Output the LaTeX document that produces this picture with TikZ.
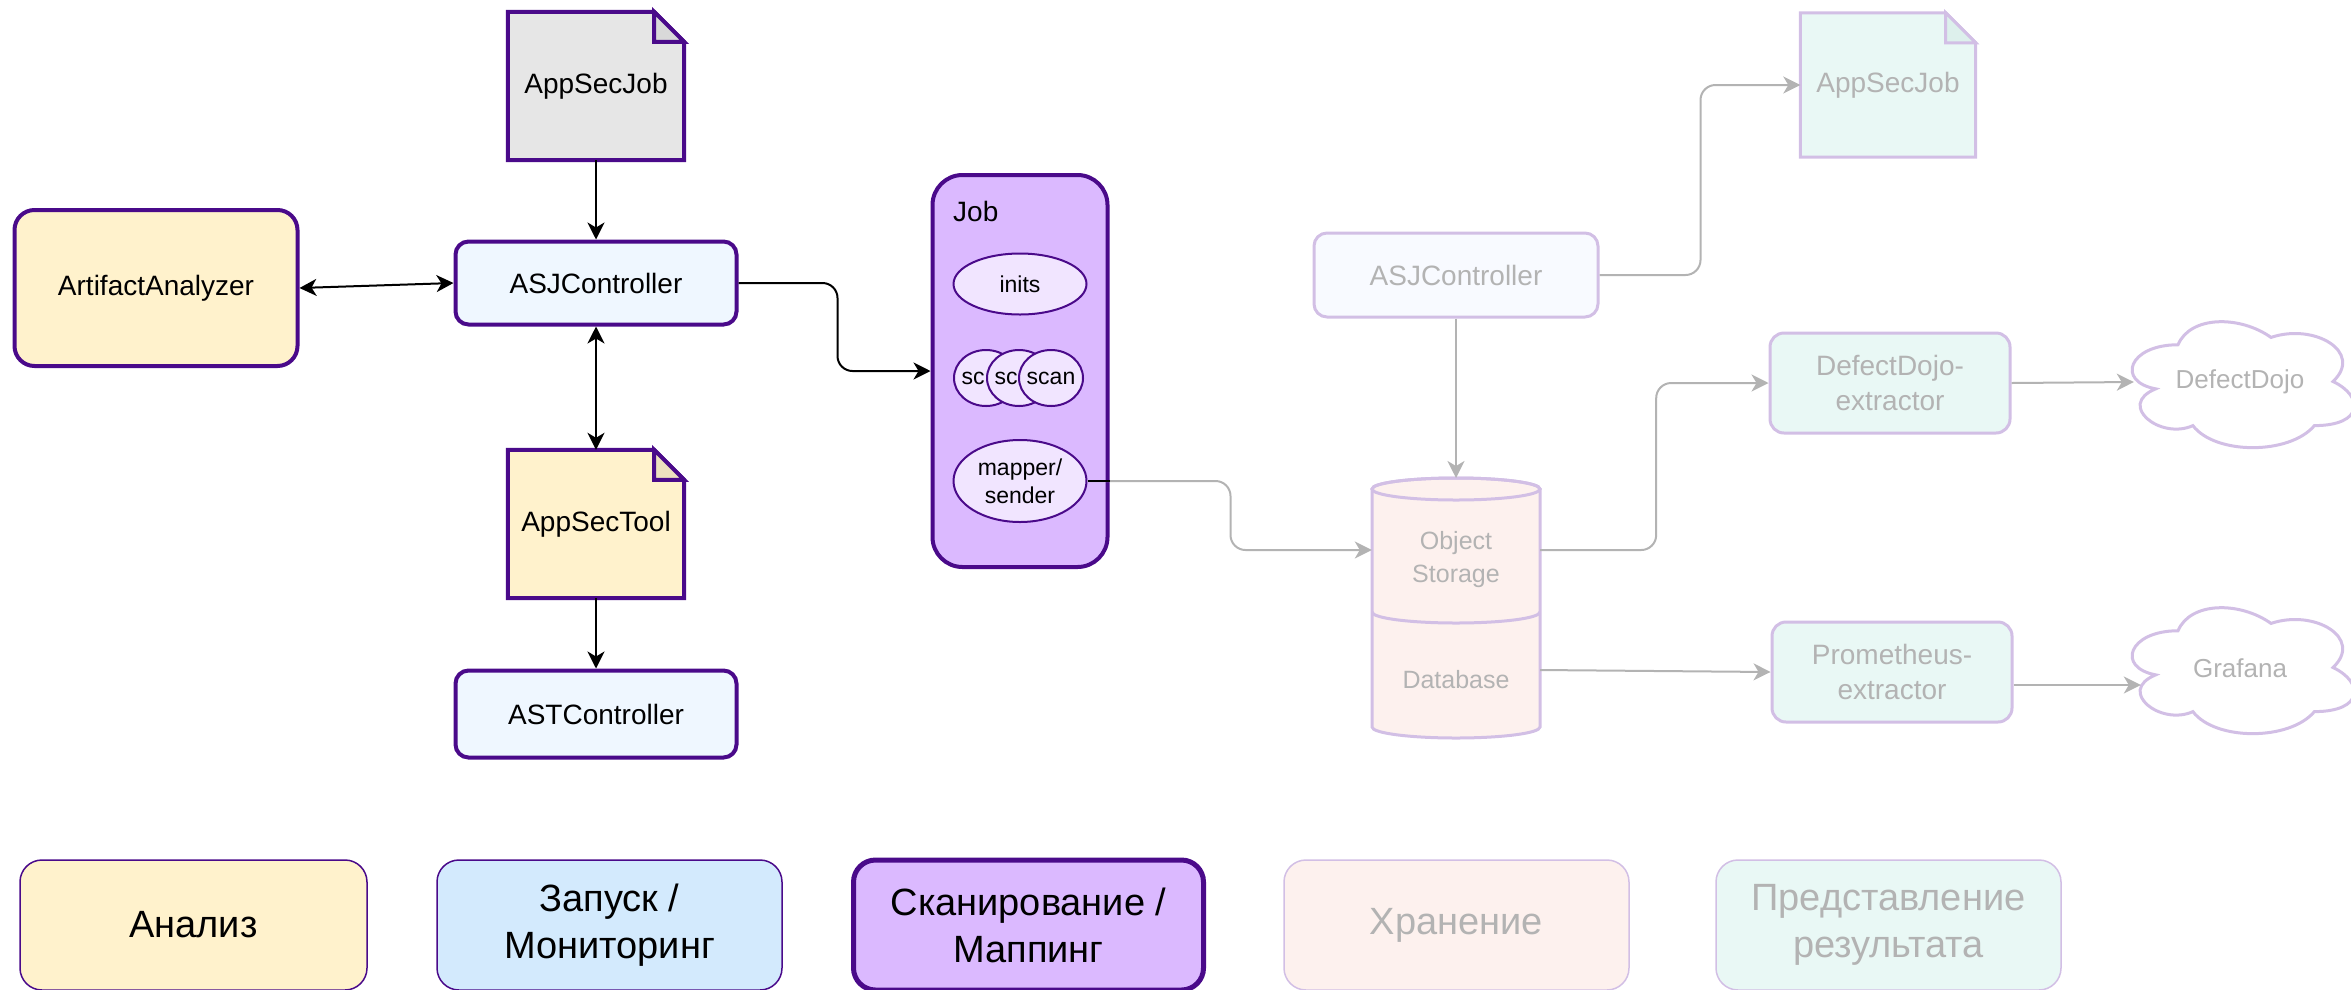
\documentclass[tikz,border=0pt]{standalone}
\usepackage{fontspec}
\setmainfont{Liberation Sans}
\usetikzlibrary{arrows.meta,backgrounds,calc,shapes.geometric}

\definecolor{deep}{HTML}{4A0A8A}
\definecolor{faded}{HTML}{D2BFE5}
\definecolor{greytxt}{HTML}{B3B3B3}
\definecolor{yel}{HTML}{FFF2CC}
\definecolor{yelfold}{HTML}{EDE1BF}
\definecolor{docgrey}{HTML}{E6E6E6}
\definecolor{docgreyfold}{HTML}{D9D9D9}
\definecolor{ctlblue}{HTML}{EFF7FF}
\definecolor{legblue}{HTML}{D3EAFD}
\definecolor{jobviolet}{HTML}{DBB9FF}
\definecolor{stepviolet}{HTML}{F1E5FF}
\definecolor{paleblue}{HTML}{F8FAFF}
\definecolor{storepink}{HTML}{FDF1EE}
\definecolor{mint}{HTML}{E9F8F5}
\definecolor{mintfold}{HTML}{DDF0EC}

% folded-corner document outline drawn behind a named node
% #1 node, #2 fill, #3 fold fill, #4 stroke, #5 line width
\newcommand\foldeddoc[5]{%
  \begin{scope}[on background layer]
    \filldraw[fill=#2, draw=#4, line width=#5, line join=miter]
      (#1.north west) -- ([xshift=-30pt]#1.north east)
      -- ([yshift=-30pt]#1.north east) -- (#1.south east)
      -- (#1.south west) -- cycle;
    \filldraw[fill=#3, draw=#4, line width=#5, line join=miter]
      ([xshift=-30pt]#1.north east) -- ([xshift=-30pt,yshift=-30pt]#1.north east)
      -- ([yshift=-30pt]#1.north east) -- cycle;
  \end{scope}}

% cloud outline with its bounding box at (#1,#2), size #3 x #4
\newcommand\cloudoutline[4]{%
  \begin{scope}[shift={(#1,#2)}]
  \begin{scope}[x=#3pt, y=-#4pt]
    \filldraw[fill=white, draw=faded, line width=3pt]
      (0.25,0.25) .. controls (0.05,0.25) and (0,0.5) .. (0.16,0.55)
      .. controls (0,0.66) and (0.18,0.9) .. (0.31,0.8)
      .. controls (0.4,1) and (0.7,1) .. (0.8,0.8)
      .. controls (1,0.8) and (1,0.6) .. (0.875,0.5)
      .. controls (1,0.3) and (0.8,0.1) .. (0.625,0.2)
      .. controls (0.5,0.05) and (0.3,0.05) .. (0.25,0.25) -- cycle;
  \end{scope}
  \end{scope}}

\tikzset{
  lbl/.style={inner sep=0pt, align=center, font=\fontsize{28}{34}\selectfont},
  ctl/.style={lbl, rectangle, rounded corners=13pt, draw=deep, line width=4pt, fill=ctlblue},
  fadebox/.style={lbl, rectangle, rounded corners=14pt, draw=faded, line width=3pt, text=greytxt},
  stepnode/.style={ellipse, draw=deep, line width=2pt, fill=stepviolet, inner sep=0pt,
    align=center, font=\fontsize{23}{28}\selectfont},
  legendbox/.style={rectangle, rounded corners=22pt, inner sep=0pt, align=center,
    minimum height=130pt, font=\fontsize{38}{47}\selectfont},
  link/.style={line width=2pt, draw=black, rounded corners=15pt},
  fadelink/.style={line width=2pt, draw=greytxt, rounded corners=15pt},
}

\begin{document}
\begin{tikzpicture}[x=1pt, y=-1pt, >={Stealth[length=17pt,width=17pt,inset=5pt]}]
\useasboundingbox (0,0) rectangle (2351,989);

% ---------- analysis and launch ----------
\node[lbl, minimum width=176pt, minimum height=148pt] (appjob) at (596,86) {AppSecJob};
\foldeddoc{appjob}{docgrey}{docgreyfold}{deep}{4pt}

\node[ctl, minimum width=281pt, minimum height=83pt] (asj) at (596,283) {ASJController};

\node[lbl, rectangle, rounded corners=20pt, draw=deep, line width=4pt, fill=yel,
      minimum width=283pt, minimum height=156pt] (art) at (156,288) {ArtifactAnalyzer};

\node[lbl, minimum width=176pt, minimum height=148pt] (tool) at (596,524) {AppSecTool};
\foldeddoc{tool}{yel}{yelfold}{deep}{4pt}

\node[ctl, minimum width=281pt, minimum height=87pt] (ast) at (596,714) {ASTController};

% ---------- scanning job ----------
\node[rectangle, draw=deep, line width=4pt, fill=jobviolet, rounded corners=30pt,
      minimum width=175pt, minimum height=392pt, inner sep=0pt] (jobbox) at (1020,371) {};
\node[lbl, anchor=west, font=\fontsize{28}{33}\selectfont] (joblbl) at (953,211) {Job};
\node[stepnode, minimum width=133pt, minimum height=61pt] (inits) at (1020,284) {inits};
% overlapping scan instances: only the left part of the hidden labels shows
\node[stepnode, minimum width=64pt, minimum height=56pt] (scana) at (986,378) {\makebox[0pt]{sc\phantom{an}}};
\node[stepnode, minimum width=64pt, minimum height=56pt] (scanb) at (1019,378) {\makebox[0pt]{sc\phantom{an}}};
\node[stepnode, minimum width=64pt, minimum height=56pt] (scanc) at (1051,378) {\makebox[0pt]{scan}};
\node[stepnode, minimum width=133pt, minimum height=82pt] (mapper) at (1020,481) {mapper/\\sender};

% ---------- storage ----------
\node[fadebox, rounded corners=13pt, fill=paleblue, minimum width=284pt, minimum height=84pt]
  (fasj) at (1456,275) {ASJController};
\node[lbl, text=greytxt, minimum width=175pt, minimum height=144pt] (fjob) at (1888,85) {AppSecJob};
\foldeddoc{fjob}{mint}{mintfold}{faded}{3pt}

\filldraw[fill=storepink, draw=faded, line width=3pt]
  (1372,489) -- (1372,727)
  arc[start angle=180, end angle=360, x radius=84pt, y radius=11pt]
  -- (1540,489)
  arc[start angle=0, end angle=180, x radius=84pt, y radius=11pt] -- cycle;
\draw[draw=faded, line width=3pt] (1456,489) ellipse[x radius=84pt, y radius=11pt];
\draw[draw=faded, line width=3pt] (1372,612)
  arc[start angle=180, end angle=360, x radius=84pt, y radius=11pt];
\coordinate (cyltop) at (1456,478);
\node[lbl, text=greytxt, font=\fontsize{25}{33}\selectfont, minimum width=168pt]
  (objstore) at (1456,560) {Object\\Storage};
\node[lbl, text=greytxt, font=\fontsize{25}{33}\selectfont, minimum width=168pt]
  (dbase) at (1456,680) {Database};

% ---------- result presentation ----------
\node[fadebox, fill=mint, minimum width=240pt, minimum height=100pt, font=\fontsize{28}{35}\selectfont]
  (ddx) at (1890,383) {DefectDojo-\\extractor};
\node[fadebox, fill=mint, minimum width=240pt, minimum height=100pt, font=\fontsize{28}{35}\selectfont]
  (prx) at (1892,672) {Prometheus-\\extractor};

\cloudoutline{2116}{308}{248}{147}
\node[lbl, text=greytxt, font=\fontsize{26}{31}\selectfont, minimum width=212pt]
  (ddojo) at (2240,382) {DefectDojo};
\cloudoutline{2116}{594}{248}{147}
\node[lbl, text=greytxt, font=\fontsize{26}{31}\selectfont, minimum width=198pt]
  (grafana) at (2240,668) {Grafana};

% ---------- connectors ----------
\draw[link, ->] (appjob.south) -- (asj.north);
\draw[link, <->] (art.east) -- (asj.west);
\draw[link, <->] (asj.south) -- (tool.north);
\draw[link, ->] (tool.south) -- (ast.north);
\draw[link, ->] (asj.east) -- ++(99,0) |- (jobbox.west);

\draw[fadelink, ->] (mapper.east) -- ++(143,0) |- ([yshift=10pt]objstore.west);
\draw[line width=2pt] (mapper.east) -- (mapper.east -| jobbox.east);
\draw[fadelink, ->] (fasj.south) -- (cyltop);
\draw[fadelink, ->] (fasj.east) -- ++(101,0) |- (fjob.west);
\draw[fadelink, ->] ([yshift=10pt]objstore.east) -- ++(116,0) |- (ddx.west);
\draw[fadelink, ->] ([yshift=10pt]dbase.east) -- (prx.west);
\draw[fadelink, ->] (ddx.east) -- (ddojo.west);
\draw[fadelink, ->] ([yshift=-13pt]prx.east) -- ([yshift=-17pt]grafana.west);

% ---------- legend ----------
\node[legendbox, draw=deep, line width=1.5pt, fill=yel, minimum width=347pt]
  (leganal) at (193.5,925) {Анализ};
\node[legendbox, draw=deep, line width=1.5pt, fill=legblue, minimum width=345pt]
  (leglaunch) at (609.5,925) {Запуск /\\Мониторинг};
\node[legendbox, draw=deep, line width=5pt, fill=jobviolet, minimum width=350pt]
  (legscan) at (1028.5,925) {Сканирование /\\Маппинг};
\node[legendbox, draw=faded, line width=1.5pt, fill=storepink, text=greytxt, minimum width=345pt]
  (legstore) at (1456.5,925) {Хранение};
\node[legendbox, draw=faded, line width=1.5pt, fill=mint, text=greytxt, minimum width=345pt]
  (legshow) at (1888.5,925) {Представление\\результата};
\end{tikzpicture}
\end{document}
